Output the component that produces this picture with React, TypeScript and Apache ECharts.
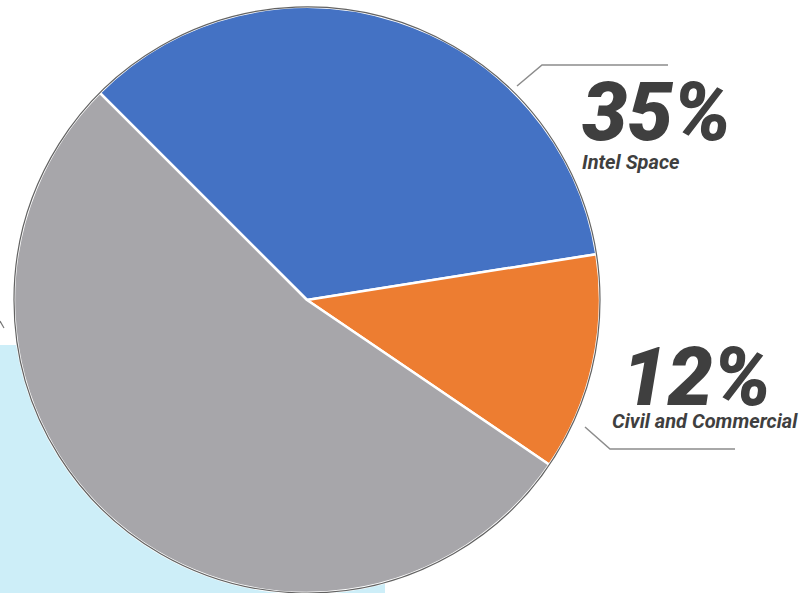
import React, { useEffect, useRef } from "react";
import * as echarts from "echarts";

const categories = ["Intel Space", "Civil and Commercial", "Military Space"];
const shares = [35, 12, 53];
const colors = ["#4472c4", "#ed7d31", "#a7a6aa"];
const showLabel = [true, true, false];

const LABEL_POS: Array<null | { x: number; y: number; line: number[][] }> = [
  { x: 582, y: 77, line: [[517, 86], [542, 65], [668, 65]] },
  { x: 612, y: 342, line: [[585, 427], [610, 449], [735, 449]] },
  null,
];

const FONT = "Roboto, 'Liberation Sans', sans-serif";
const TEXT_COLOR = "#3f3f3f";

const bigStyle = {
  fontSize: 81,
  fontWeight: 900,
  fontStyle: "italic",
  fontFamily: FONT,
  color: TEXT_COLOR,
  lineHeight: 70,
};
const smallStyle = {
  fontSize: 20,
  fontWeight: "bold",
  fontStyle: "italic",
  fontFamily: FONT,
  color: TEXT_COLOR,
};

export default function App() {
  const ref = useRef<HTMLDivElement>(null);
  useEffect(() => {
    if (!ref.current) return;
    const chart = echarts.init(ref.current, null, { renderer: "svg" });
    const data = categories.map((name, i) => ({
      name,
      value: shares[i],
      itemStyle: { color: colors[i] },
      label: { show: showLabel[i] },
      labelLine: { show: showLabel[i] },
    }));
    chart.setOption({
      animation: false,
      backgroundColor: "#ffffff",
      graphic: [
        {
          type: "rect",
          z: -10,
          shape: { x: 0, y: 345, width: 385, height: 248 },
          style: { fill: "#cdeef8" },
          silent: true,
        },
        {
          type: "line",
          shape: { x1: 0, y1: 321, x2: 4, y2: 328 },
          style: { stroke: "#777", lineWidth: 1.2 },
          silent: true,
        },
        {
          type: "circle",
          z: 100,
          shape: { cx: 307, cy: 300, r: 293 },
          style: { fill: "none", stroke: "rgba(70,70,70,0.85)", lineWidth: 1.2 },
          silent: true,
        },
      ],
      series: [
        {
          type: "pie",
          center: [307, 300],
          radius: [0, 293],
          startAngle: 135,
          clockwise: true,
          silent: true,
          itemStyle: { borderColor: "#ffffff", borderWidth: 2.5 },
          label: {
            show: true,
            position: "outside",
            overflow: "none",
            formatter: (p: any) =>
              p.dataIndex === 1
                ? `{bigB|${p.value}%}\n{smallB|${p.name}}`
                : `{bigA|${p.value}%}\n{smallA|${p.name}}`,
            rich: {
              bigA: { ...bigStyle },
              smallA: { ...smallStyle, lineHeight: 30 },
              bigB: { ...bigStyle, padding: [0, 0, 0, 10] },
              smallB: { ...smallStyle, lineHeight: 18 },
            },
          },
          labelLine: {
            show: true,
            lineStyle: { color: "#8c8c8c", width: 1.5 },
          },
          labelLayout: (params: any) => {
            const pos = LABEL_POS[params.dataIndex];
            if (!pos) return {};
            return {
              x: pos.x,
              y: pos.y,
              align: "left",
              verticalAlign: "top",
              width: 260,
              labelLinePoints: pos.line,
            };
          },
          data,
        },
      ],
    });
    return () => chart.dispose();
  }, []);
  return (
    <div
      ref={ref}
      style={{ position: "fixed", left: 0, top: 0, width: 806, height: 593 }}
    />
  );
}
